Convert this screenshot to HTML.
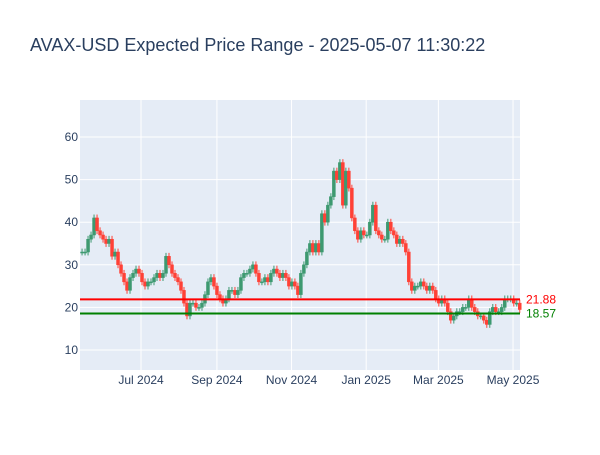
<!DOCTYPE html>
<html><head><meta charset="utf-8"><style>
body{margin:0;background:#fff;font-family:"Liberation Sans",sans-serif}
</style></head><body>
<svg id="chart" width="600" height="450" xmlns="http://www.w3.org/2000/svg">
<rect width="600" height="450" fill="#fff"/>
<text x="30" y="51" font-size="18" fill="#2a3f5f" font-family="Liberation Sans, sans-serif">AVAX-USD Expected Price Range - 2025-05-07 11:30:22</text>
<rect x="80" y="100" width="440" height="270" fill="#e5ecf6"/>
<g id="grid"></g><g id="candles"></g><g id="lines"></g><g id="axes"></g>
</svg>
<script>
const closes=[33,33,36,37,41,38,37,36,35,36,32,33,30,28,26,24,27,28,29,28,26,25,26,26,27,28,27,28,32,30,28,27,26,24,21,18,21,21,20,20,21,23,26,27,25,23,22,21,22,24,24,23,24,27,28,28,29,30,28,26,26,27,26,28,29,28,27,28,27,25,26,25,23,28,30,33,35,33,35,33,42,40,44,46,52,50,54,44,52,48,41,38,36,38,37,37,40,44,38,37,36,36,40,38,37,35,36,35,33,26,24,25,25,26,25,24,25,24,22,21,22,21,19,17,18,19,19,20,20,22,20,19,18,18,17,16,19,20,19,19,20,22,22,22,21,21,19.5];
const yTicks=[10,20,30,40,50,60];
const xTickLabels=["Jul 2024","Sep 2024","Nov 2024","Jan 2025","Mar 2025","May 2025"];
const xTickDays=[52,114,175,236,295,356];
const upperLevel=21.88, lowerLevel=18.57;
const NS="http://www.w3.org/2000/svg";
const X=d=>77.4+d*1.2237;
const Y=v=>137+(60-v)*4.26;
function mk(tag,attrs,parent){const e=document.createElementNS(NS,tag);for(const k in attrs)e.setAttribute(k,attrs[k]);parent.appendChild(e);return e;}
const grid=document.getElementById('grid'),axes=document.getElementById('axes');
yTicks.forEach(v=>{
 const l=mk('line',{x1:80,x2:520,y1:Y(v),y2:Y(v),stroke:'#fff','stroke-width':1},grid);
 
 
 const t=mk('text',{x:78-0,y:Y(v)+4,'text-anchor':'end','font-size':12,fill:'#2a3f5f'},axes);
 t.setAttribute('x',78);
 t.textContent=v;
 
 
});
xTickDays.forEach((d,i)=>{
 const l=mk('line',{x1:X(d),x2:X(d),y1:100,y2:370,stroke:'#fff','stroke-width':1},grid);
 
 
 const t=mk('text',{x:X(d),y:384,'text-anchor':'middle','font-size':12,fill:'#2a3f5f'},axes);
 t.textContent=xTickLabels[i];
 
 
});
const cg=document.getElementById('candles');
closes.forEach((c,i)=>{
 const o=i>0?closes[i-1]:c;
 const d=3.8+i*2.45, x=X(d);
 const col=c>=o?'#3d9970':'#ff4136';
 const hi=Math.max(o,c)+0.8, lo=Math.min(o,c)-0.8;
 const g=mk('g',{},cg);
 
 
 mk('line',{x1:x,x2:x,y1:Y(hi),y2:Y(lo),stroke:col,'stroke-width':1},g);
 const top=Y(Math.max(o,c)),h=Math.max(1,Y(Math.min(o,c))-top);
 mk('rect',{x:x-1.5,y:top,width:3,height:h,fill:col,stroke:col,'stroke-width':0.5},g);
});
const lg=document.getElementById('lines');
[[upperLevel,'#ff0000','upper'],[lowerLevel,'#008000','lower']].forEach(([v,col,n])=>{
 const l=mk('line',{x1:80,x2:520,y1:Y(v),y2:Y(v),stroke:col,'stroke-width':2},lg);
 
 
 const t=mk('text',{x:526,y:Y(v)+4,'font-size':12,fill:col},lg);
 t.textContent=v.toFixed(2);
 
 
});
</script>
</body></html>
